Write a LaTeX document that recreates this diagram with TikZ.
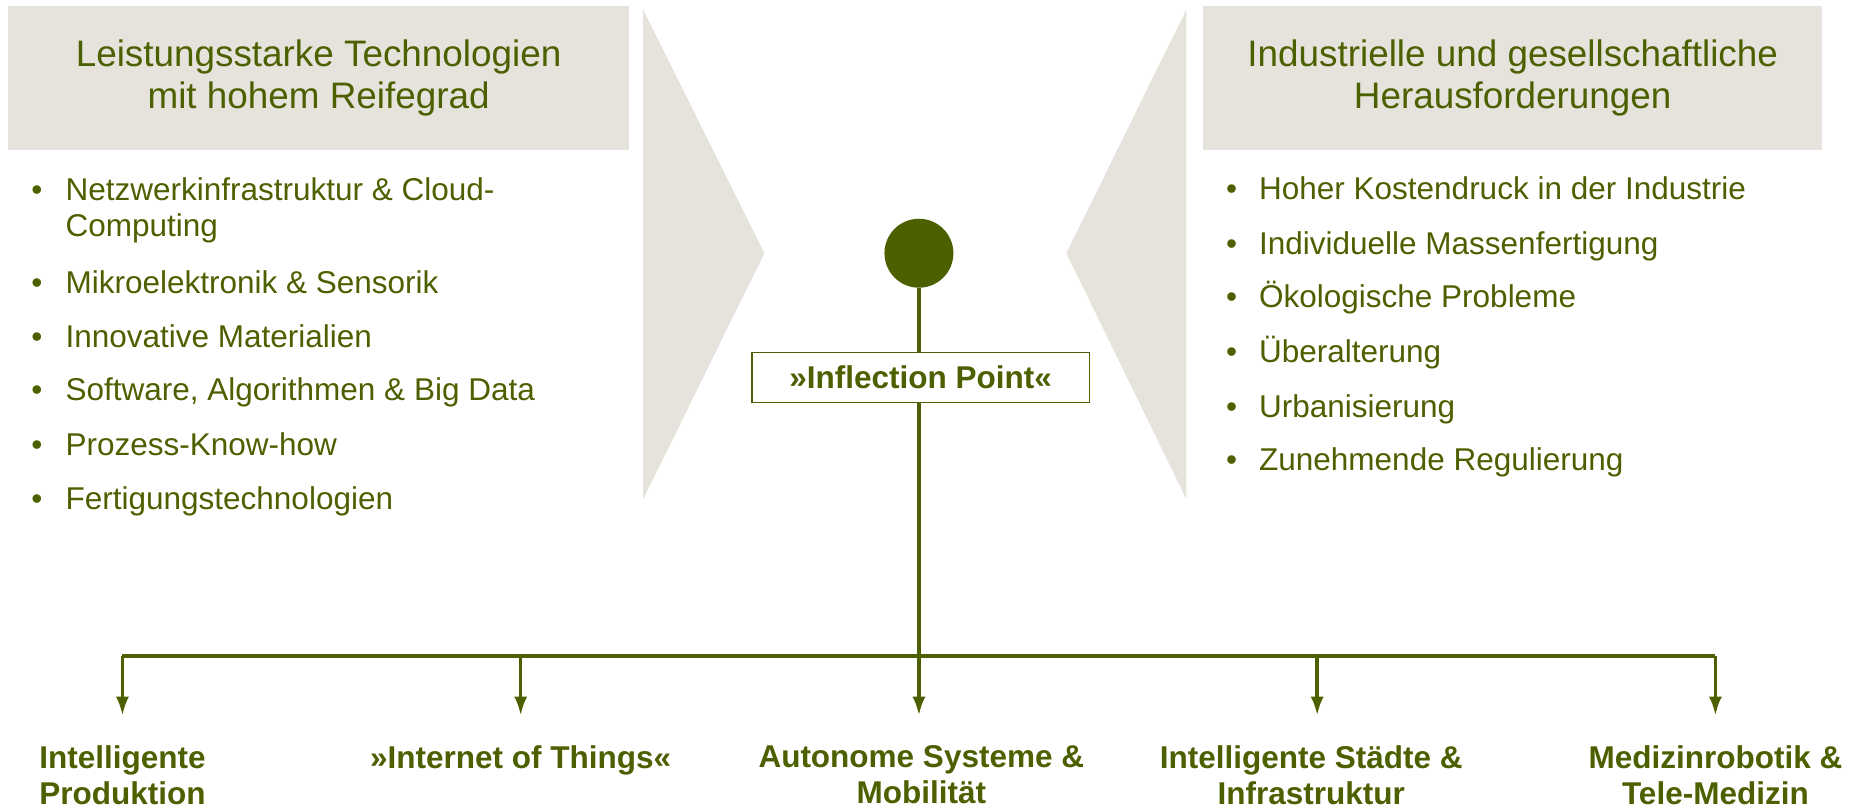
\documentclass[tikz,border=0pt]{standalone}
\usepackage{fontspec}
\setmainfont{Liberation Sans}
\usetikzlibrary{arrows.meta,positioning,calc}
\definecolor{leafgreen}{RGB}{77,96,0}
\definecolor{panelgray}{RGB}{230,227,221}

\begin{document}
\begin{tikzpicture}[x=1pt,y=-1pt,
	head/.style={font=\fontsize{31}{35}\selectfont, text=leafgreen, align=center},
	item/.style={font=\fontsize{26.5}{30}\selectfont, text=leafgreen, anchor=base west, align=left, inner sep=0pt},
	bullet/.style={font=\fontsize{26.5}{30}\selectfont, text=leafgreen, anchor=base, inner sep=0pt},
	goal/.style={font=\bfseries\fontsize{26.5}{30}\selectfont, text=leafgreen, align=center, anchor=north, inner sep=0pt},
	arr/.style={leafgreen, line width=3pt, -{Latex[length=16pt,width=11pt]}}]
	\useasboundingbox (0,0) rectangle (1568,681);

	% Technologien
	\fill [panelgray] (7,5) rectangle (529,126);
	\node (tech) at (268,65.5) [head] {Leistungsstarke Technologien\\mit hohem Reifegrad};
	\fill [panelgray] (541,8) -- (643,213) -- (541,420) -- cycle;
	\node (lb1) at (31,169) [bullet] {•};
	\node (li1) at (55,199) [item] {Netzwerkinfrastruktur \& Cloud-\\Computing};
	\foreach \yy/\txt [count=\k from 2] in {247/{Mikroelektronik \& Sensorik}, 292/{Innovative Materialien}, 337/{Software, Algorithmen \& Big Data}, 383/{Prozess-Know-how}, 429/{Fertigungstechnologien}}{
		\node (lb\k) at (31,\yy) [bullet] {•};
		\node (li\k) at (55,\yy) [item] {\txt};
	}

	% Herausforderungen
	\fill [panelgray] (1012,5) rectangle (1533,126);
	\node (chal) at (1272.5,65.5) [head] {Industrielle und gesellschaftliche\\Herausforderungen};
	\fill [panelgray] (998,8) -- (897,213) -- (998,420) -- cycle;
	\foreach \yy/\txt [count=\k] in {168/{Hoher Kostendruck in der Industrie}, 214/{Individuelle Massenfertigung}, 259/{Ökologische Probleme}, 305/{Überalterung}, 351/{Urbanisierung}, 396/{Zunehmende Regulierung}}{
		\node (rb\k) at (1036,\yy) [bullet] {•};
		\node (ri\k) at (1059,\yy) [item] {\txt};
	}

	% Inflection Point
	\node (ip) at (773,213) [circle, fill=leafgreen, minimum size=58pt, inner sep=0pt] {};
	\node (infl) at (774.5,317.5) [draw=leafgreen, line width=1.5pt, fill=white, minimum width=284pt, minimum height=42pt, inner sep=0pt, font=\bfseries\fontsize{26.5}{30}\selectfont, text=leafgreen] {»Inflection Point«};

	\foreach \xx [count=\k] in {103,438,773,1108,1443}
		\coordinate (bar\k) at (\xx,552);
	\draw [leafgreen, line width=3pt] (ip.south) -- (ip.south |- infl.north);
	\draw [leafgreen, line width=3pt] (bar3 |- infl.south) -- (bar3);
	\draw [leafgreen, line width=3pt] (bar1) -- (bar5);

	\node (g1) at (103,627) [goal] {Intelligente\\Produktion};
	\node (g2) at (438,627) [goal] {»Internet of Things«};
	\node (g3) at (775,627) [goal] {Autonome Systeme \&\\Mobilität};
	\node (g4) at (1103,627) [goal] {Intelligente Städte \&\\Infrastruktur};
	\node (g5) at (1443,627) [goal] {Medizinrobotik \&\\Tele-Medizin};
	\foreach \k in {1,...,5}
		\draw [arr, shorten >=25pt] (bar\k) -- (bar\k |- g\k.north);
\end{tikzpicture}
\end{document}
